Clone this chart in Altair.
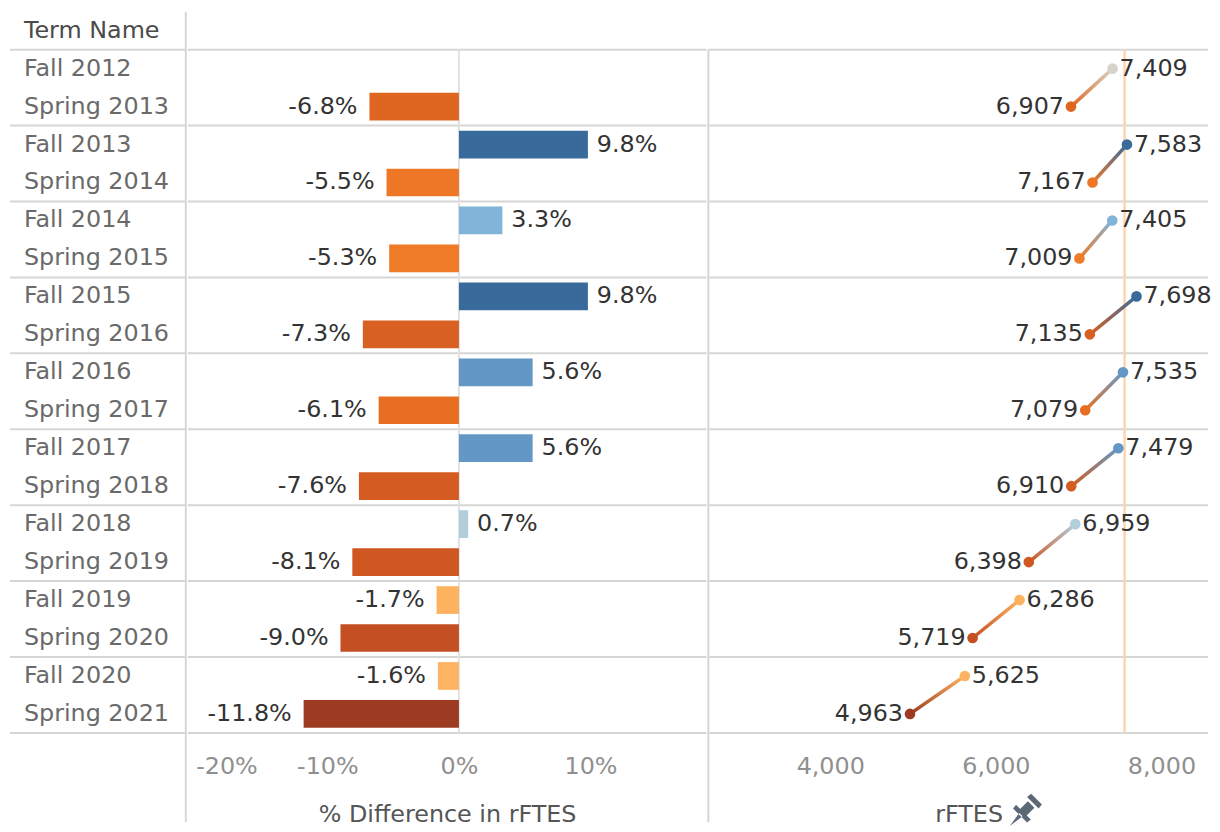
import altair as alt
import pandas as pd
import numpy as np

# ---------------- data ----------------
terms = ["Fall 2012", "Spring 2013", "Fall 2013", "Spring 2014", "Fall 2014", "Spring 2015",
         "Fall 2015", "Spring 2016", "Fall 2016", "Spring 2017", "Fall 2017", "Spring 2018",
         "Fall 2018", "Spring 2019", "Fall 2019", "Spring 2020", "Fall 2020", "Spring 2021"]
pct_diff = [None, -6.8, 9.8, -5.5, 3.3, -5.3, 9.8, -7.3, 5.6, -6.1, 5.6, -7.6,
            0.7, -8.1, -1.7, -9.0, -1.6, -11.8]
rftes = [7409, 6907, 7583, 7167, 7405, 7009, 7698, 7135, 7535, 7079, 7479, 6910,
         6959, 6398, 6286, 5719, 5625, 4963]
reference_value = [7554]
pct_ticks = [-20, -10, 0, 10]
rftes_ticks = [4000, 6000, 8000]

# ---------------- styling ----------------
FONT = "DejaVu Sans"
FS = 24
H = 726           # 19 rows (header + 18 terms)
ROWS = 19
W_LBL, W_BAR, W_DOT = 179, 522, 503
GRID = "#d6d6d6"
NULL_COLOR = "#d6d3c8"
c_domain = [-11.8, -9.0, -7.6, -6.1, -5.3, -1.6, 0.7, 3.3, 5.6, 9.8]
c_range = ["#9c3b22", "#c34f23", "#d45c22", "#e86f21", "#ef7a27", "#fdb462",
           "#b3cedb", "#80b4d9", "#6398c6", "#386b9b"]
color_scale = alt.Scale(domain=c_domain, range=c_range, interpolate="rgb")
PIN_PATH = ("M-1,1 L-0.42,0.22 L-0.22,0.42 Z "
            "M-0.8,-0.05 L0.05,0.8 L0.28,0.62 L-0.62,-0.28 Z "
            "M-0.45,0.05 L-0.05,0.45 L0.5,-0.1 L0.1,-0.5 Z "
            "M0.05,-0.75 L0.75,-0.05 L0.95,-0.3 L0.3,-0.95 Z")


def hex2rgb(h):
    return [int(h[i:i + 2], 16) for i in (1, 3, 5)]


def color_for(v):
    if v is None or (isinstance(v, float) and np.isnan(v)):
        return NULL_COLOR
    rgb = np.array([hex2rgb(c) for c in c_range], dtype=float)
    out = [int(round(np.interp(v, c_domain, rgb[:, k]))) for k in range(3)]
    return "#%02x%02x%02x" % tuple(out)


df = pd.DataFrame({"term": terms, "pct": pct_diff, "rftes": rftes})
df["row"] = list(range(1, len(terms) + 1))
df["season"] = [t.split()[0] for t in terms]

sep_df = pd.DataFrame({"y": list(range(1, ROWS + 1, 2))})
one = pd.DataFrame({"a": [0]})

yscale = alt.Scale(domain=[0, ROWS], reverse=True, nice=False, zero=False, padding=0)


def seps(width, x0=0):
    return alt.Chart(sep_df).mark_rule(color=GRID, strokeWidth=2).encode(
        y=alt.Y("y:Q", scale=yscale, axis=None),
        x=alt.value(x0), x2=alt.value(width))


# ---------------- label column ----------------
labels = alt.Chart(df).transform_calculate(yc="datum.row + 0.5").mark_text(
    align="left", baseline="middle", font=FONT, fontSize=FS, color="#6a6a6a"
).encode(x=alt.value(16), y=alt.Y("yc:Q", scale=yscale, axis=None), text="term:N")

header = alt.Chart(pd.DataFrame({"t": ["Term Name"], "yc": [0.5]})).mark_text(
    align="left", baseline="middle", font=FONT, fontSize=FS, color="#4a4a4a"
).encode(x=alt.value(16), y=alt.Y("yc:Q", scale=yscale, axis=None), text="t:N")

lbl_div = alt.Chart(one).mark_rule(color=GRID, strokeWidth=2).encode(
    x=alt.value(W_LBL), y=alt.value(0), y2=alt.value(H + 90))

label_panel = alt.layer(seps(W_LBL, 2), lbl_div, labels, header).properties(
    width=W_LBL, height=H)

# ---------------- bar panel ----------------
xs_pct = alt.Scale(domain=[-20.6, 18.8], nice=False, zero=False)
pct_axis = alt.Axis(values=pct_ticks, labelExpr="datum.value + '%'", grid=False, ticks=False,
                    domain=False, labelFlush=10, labelFont=FONT, labelFontSize=FS,
                    labelColor="#8f8f8f", labelPadding=22, title="% Difference in rFTES",
                    titleFont=FONT, titleFontSize=FS, titleFontWeight="normal",
                    titleColor="#555555", titlePadding=24)

bar_base = alt.Chart(df).transform_filter("isValid(datum.pct)").transform_calculate(
    y1="datum.row + 0.135", y2="datum.row + 0.865", yc="datum.row + 0.5",
    lab="replace(format(datum.pct, '.1f'), '\u2212', '-') + '%'")

bars = bar_base.mark_rect().encode(
    x=alt.X("pct:Q", scale=xs_pct, axis=pct_axis),
    x2=alt.datum(0),
    y=alt.Y("y1:Q", scale=yscale, axis=None), y2="y2:Q",
    color=alt.Color("pct:Q", scale=color_scale, legend=None))

pos_lab = bar_base.transform_filter("datum.pct >= 0").mark_text(
    align="left", baseline="middle", dx=9, font=FONT, fontSize=FS, color="#333333"
).encode(x=alt.X("pct:Q", scale=xs_pct, axis=pct_axis),
         y=alt.Y("yc:Q", scale=yscale, axis=None), text="lab:N")
neg_lab = bar_base.transform_filter("datum.pct < 0").mark_text(
    align="right", baseline="middle", dx=-12, font=FONT, fontSize=FS, color="#333333"
).encode(x=alt.X("pct:Q", scale=xs_pct, axis=pct_axis),
         y=alt.Y("yc:Q", scale=yscale, axis=None), text="lab:N")

zero_line = alt.Chart(pd.DataFrame({"x": [0], "ya": [1], "yb": [ROWS]})).mark_rule(
    color="#e2e2e2", strokeWidth=2).encode(
    x=alt.X("x:Q", scale=xs_pct, axis=pct_axis),
    y=alt.Y("ya:Q", scale=yscale, axis=None), y2="yb:Q")

bar_panel = alt.layer(seps(W_BAR), zero_line, bars, pos_lab, neg_lab).properties(
    width=W_BAR, height=H)

# ---------------- dot panel ----------------
xs_dot = alt.Scale(domain=[2528, 8562], nice=False, zero=False)
dot_axis = alt.Axis(values=rftes_ticks, labelExpr="format(datum.value, ',')", grid=False,
                    ticks=False, domain=False, labelFont=FONT, labelFontSize=FS,
                    labelColor="#8f8f8f", labelPadding=22,
                    title="rFTES", titleFont=FONT, titleFontSize=FS, titleX=262,
                    titleFontWeight="normal", titleColor="#555555", titlePadding=24)

ref_line = alt.Chart(pd.DataFrame({"x": reference_value, "ya": [1], "yb": [ROWS]})).mark_rule(
    color="#fcd4b0", strokeWidth=2.5).encode(
    x=alt.X("x:Q", scale=xs_dot, axis=dot_axis),
    y=alt.Y("ya:Q", scale=yscale, axis=None), y2="yb:Q")

pair_layers = []
for k in range(0, len(terms), 2):
    f, s = df.iloc[k], df.iloc[k + 1]
    pair = pd.DataFrame({"fx": [f.rftes], "sx": [s.rftes],
                         "fy": [f.row + 0.5], "sy": [s.row + 0.5]})
    grad = alt.LinearGradient(
        gradient="linear", x1=0, y1=1, x2=1, y2=0,
        stops=[alt.GradientStop(color=color_for(s.pct), offset=0),
               alt.GradientStop(color=color_for(f.pct), offset=1)])
    pair_layers.append(
        alt.Chart(pair).mark_rule(stroke=grad, strokeWidth=3.5).encode(
            x=alt.X("fx:Q", scale=xs_dot, axis=dot_axis), x2="sx:Q",
            y=alt.Y("fy:Q", scale=yscale, axis=None), y2="sy:Q"))

dot_base = alt.Chart(df).transform_calculate(
    yc="datum.row + 0.5", cpct="isValid(datum.pct) ? datum.pct : 0")
dots = dot_base.mark_circle(size=115, opacity=1).encode(
    x=alt.X("rftes:Q", scale=xs_dot, axis=dot_axis),
    y=alt.Y("yc:Q", scale=yscale, axis=None),
    color=alt.condition("!isValid(datum.pct)", alt.value(NULL_COLOR),
                        alt.Color("cpct:Q", scale=color_scale, legend=None)))

fall_lab = dot_base.transform_filter("datum.season == 'Fall'").mark_text(
    align="left", baseline="middle", dx=7, font=FONT, fontSize=FS, color="#333333"
).encode(x=alt.X("rftes:Q", scale=xs_dot, axis=dot_axis),
         y=alt.Y("yc:Q", scale=yscale, axis=None),
         text=alt.Text("rftes:Q", format=","))
spring_lab = dot_base.transform_filter("datum.season == 'Spring'").mark_text(
    align="right", baseline="middle", dx=-7, font=FONT, fontSize=FS, color="#333333"
).encode(x=alt.X("rftes:Q", scale=xs_dot, axis=dot_axis),
         y=alt.Y("yc:Q", scale=yscale, axis=None),
         text=alt.Text("rftes:Q", format=","))

mid_div = alt.Chart(one).mark_rule(color=GRID, strokeWidth=2).encode(
    x=alt.value(0), y=alt.value(H / ROWS), y2=alt.value(H + 90))

pin = alt.Chart(one).mark_point(shape=PIN_PATH, filled=True, size=1100, opacity=1,
                                strokeWidth=0, color="#5d6877").encode(
    x=alt.value(320), y=alt.value(H + 77))

dot_panel = alt.layer(seps(W_DOT), ref_line, mid_div, *pair_layers, dots, fall_lab,
                      spring_lab, pin).properties(width=W_DOT, height=H)

chart = alt.hconcat(label_panel, bar_panel, dot_panel, spacing=0).properties(
    padding=0, background="white"
).configure(padding=0).configure_view(stroke=None)

chart.save("out.html", embed_options={"renderer": "svg", "actions": False})
